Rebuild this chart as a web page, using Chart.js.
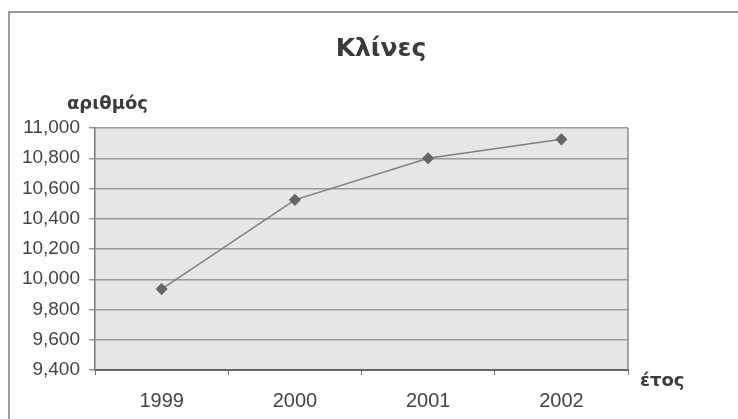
<!DOCTYPE html>
<html>
<head>
<meta charset="utf-8">
<script src="https://cdn.jsdelivr.net/npm/chart.js@4"></script>
<style>
  html, body { margin: 0; padding: 0; background: #fff; }
  #wrap { width: 738px; height: 419px; }
</style>
</head>
<body>
<div id="wrap"><canvas id="bedsChart" width="738" height="419"></canvas></div>
<script>
// data
const years = ['1999', '2000', '2001', '2002'];
const beds = [9935, 10525, 10800, 10925];
const yTicks = [9400, 9600, 9800, 10000, 10200, 10400, 10600, 10800, 11000];

const chartTitle = 'Κλίνες';
const yTitle = 'αριθμός';
const xTitle = 'έτος';

// background of the plot, frames and the loose texts
const decorPlugin = {
    id: 'decor',
    beforeDraw(chart) {
        const { ctx, chartArea: a } = chart;
        ctx.save();
        ctx.fillStyle = '#e6e6e6';
        ctx.fillRect(a.left, a.top, a.right - a.left, a.bottom - a.top);
        ctx.strokeStyle = '#9a9a9a';
        ctx.lineWidth = 2;
        ctx.beginPath();
        ctx.moveTo(9, 419);
        ctx.lineTo(9, 12);
        ctx.lineTo(738, 12);
        ctx.stroke();
        ctx.restore();
    },
    afterDraw(chart) {
        const { ctx, chartArea: a } = chart;
        ctx.save();
        // right edge of plot
        ctx.strokeStyle = '#8a8a8a';
        ctx.lineWidth = 1.5;
        ctx.beginPath();
        ctx.moveTo(a.right, a.top);
        ctx.lineTo(a.right, a.bottom);
        ctx.stroke();

        ctx.fillStyle = '#3c3c3c';
        ctx.textBaseline = 'alphabetic';
        ctx.textAlign = 'center';
        ctx.font = 'bold 25px "DejaVu Sans"';
        ctx.fillText(chartTitle, 381, 56);
        ctx.textAlign = 'left';
        ctx.font = 'bold 18px "DejaVu Sans"';
        ctx.fillText(yTitle, 67, 109);
        ctx.fillText(xTitle, 640, 386);
        ctx.restore();
    }
};

new Chart(document.getElementById('bedsChart').getContext('2d'), {
    type: 'line',
    data: {
        labels: years,
        datasets: [{
            label: chartTitle,
            data: beds,
            borderColor: '#808080',
            borderWidth: 1.5,
            pointStyle: 'rectRot',
            pointRadius: 5,
            pointBackgroundColor: '#666',
            pointBorderColor: '#666',
            tension: 0
        }]
    },
    options: {
        responsive: false,
        animation: false,
        layout: { padding: { top: 128, right: 110, left: 0, bottom: 0 } },
        plugins: {
            legend: { display: false },
            title: { display: false },
            tooltip: { enabled: false }
        },
        scales: {
            x: {
                offset: true,
                afterFit(scale) { scale.height = 49; },
                grid: {
                    offset: true,
                    drawOnChartArea: false,
                    tickLength: 5,
                    color: '#777'
                },
                border: { color: '#666', width: 2 },
                ticks: {
                    color: '#444',
                    padding: 14,
                    font: { family: 'Liberation Sans', size: 20 }
                }
            },
            y: {
                min: 9400,
                max: 11000,
                afterFit(scale) { scale.width = 95; },
                afterBuildTicks(scale) { scale.ticks = yTicks.map(v => ({ value: v })); },
                grid: {
                    color: '#9a9a9a',
                    lineWidth: 1.5,
                    tickLength: 6
                },
                border: { color: '#777', width: 1.5 },
                ticks: {
                    color: '#444',
                    padding: 9,
                    font: { family: 'Liberation Sans', size: 19 },
                    callback: v => v.toLocaleString('en-US')
                }
            }
        }
    },
    plugins: [decorPlugin]
});
</script>
</body>
</html>
